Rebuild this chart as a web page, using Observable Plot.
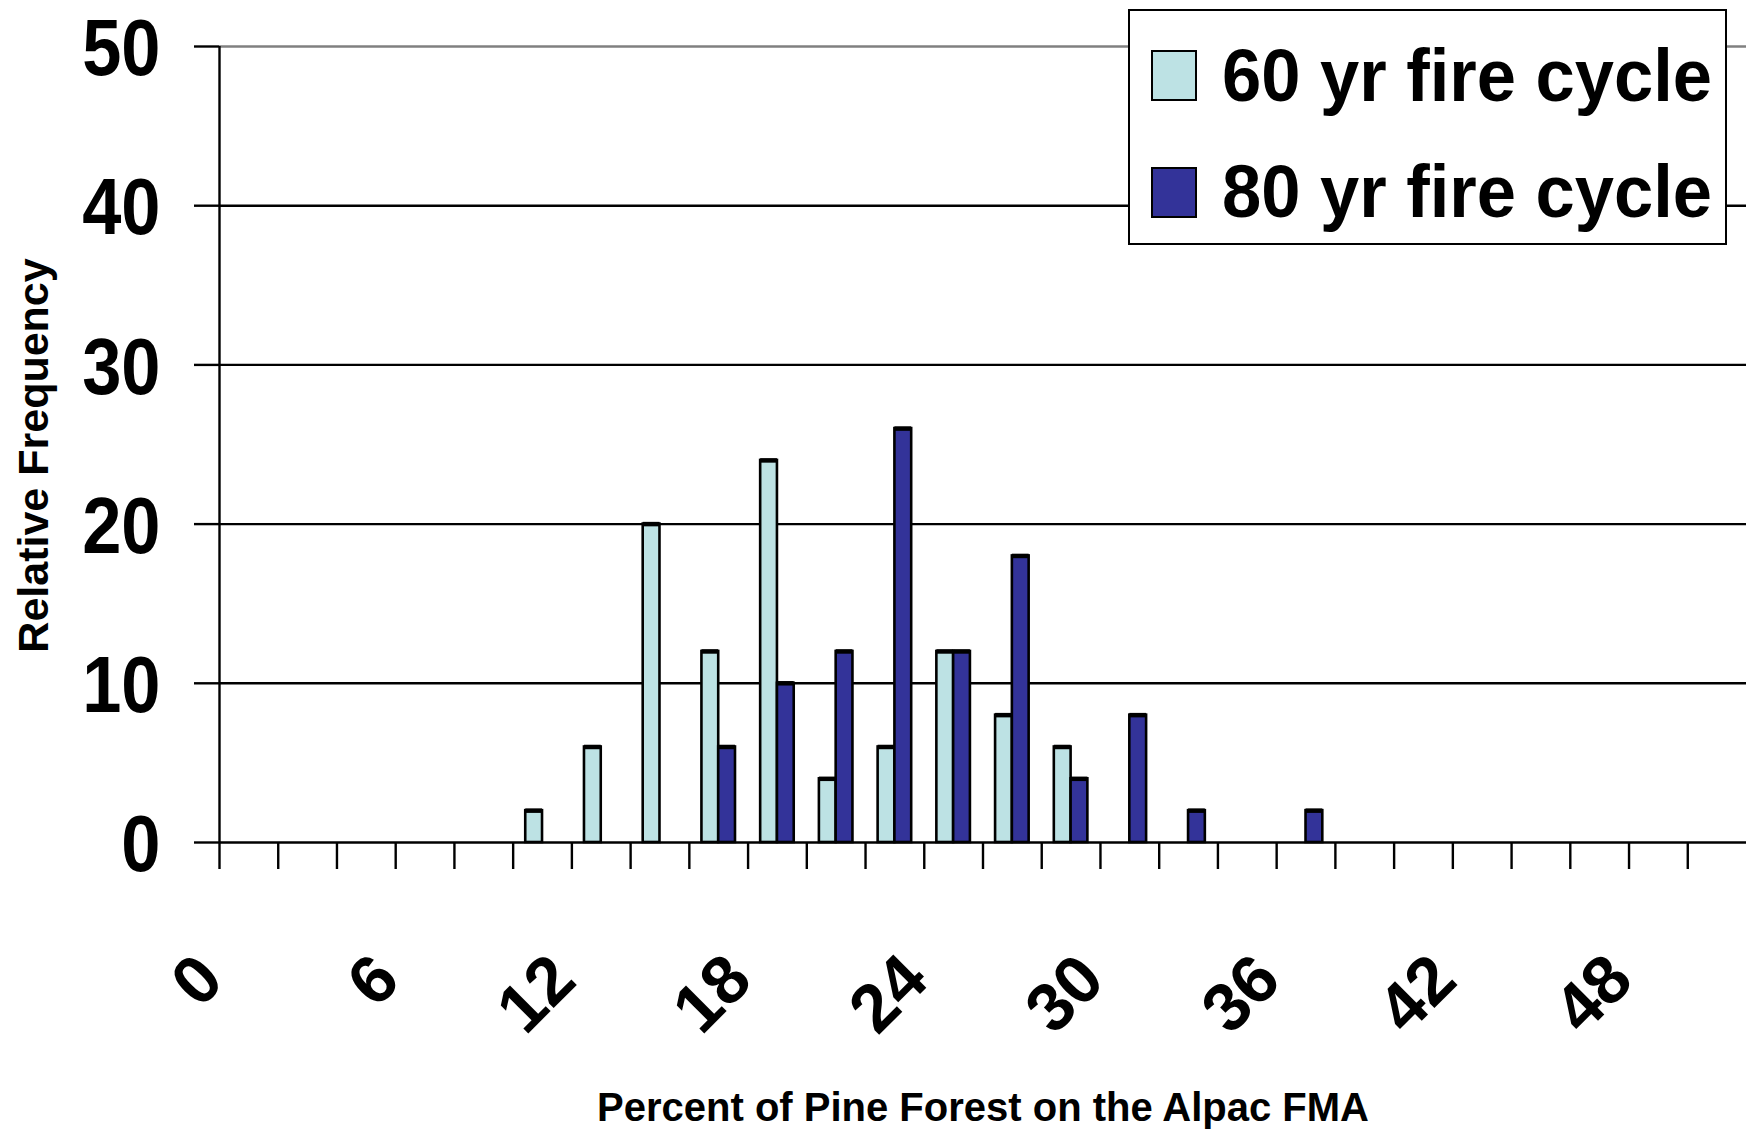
<!DOCTYPE html>
<html>
<head>
<meta charset="utf-8">
<script src="https://cdn.jsdelivr.net/npm/d3@7"></script>
<script src="https://cdn.jsdelivr.net/npm/@observablehq/plot@0.6"></script>
<style>
  html, body { margin: 0; padding: 0; background: #fff; }
  #wrap { position: relative; width: 1746px; height: 1130px; overflow: hidden; }
  #legend {
    position: absolute; left: 1128px; top: 9px; width: 595px; height: 232px;
    background: #fff; border: 2.5px solid #000;
    font-family: "Liberation Sans", Arial, sans-serif; font-weight: bold;
  }
  .sw { position: absolute; width: 42px; height: 47px; border: 2.5px solid #000; }
  .lab { position: absolute; left: 92px; font-size: 75px; line-height: 1; white-space: nowrap;
         transform: scaleX(0.94); transform-origin: 0 0; }
</style>
</head>
<body>
<div id="wrap"></div>
<script>
// Category values (percent of pine forest) — one bar group per category
const categories = [0, 2, 4, 6, 8, 10, 12, 14, 16, 18, 20, 22, 24, 26, 28, 30, 32, 34, 36, 38, 40, 42, 44, 46, 48, 50];
// Relative frequency, 60 yr fire cycle
const freq60 = [0, 0, 0, 0, 0, 2, 6, 20, 12, 24, 4, 6, 12, 8, 6, 0, 0, 0, 0, 0, 0, 0, 0, 0, 0, 0];
// Relative frequency, 80 yr fire cycle
const freq80 = [0, 0, 0, 0, 0, 0, 0, 0, 6, 10, 12, 26, 12, 18, 4, 8, 2, 0, 2, 0, 0, 0, 0, 0, 0, 0];
const seriesNames = ["60 yr fire cycle", "80 yr fire cycle"];
const seriesColors = ["#bde2e4", "#333399"];
const xTickLabels = [0, 6, 12, 18, 24, 30, 36, 42, 48];
const yTicks = [0, 10, 20, 30, 40, 50];
const xTitle = "Percent of Pine Forest on the Alpac FMA";
const yTitle = "Relative Frequency";

const step = 2;                 // category spacing in data units
const barW = step / 3.5;        // Excel gap width 150%
const boundaries = categories.map(c => c - step / 2);

const rows = [];
categories.forEach((c, i) => {
  if (freq60[i] > 0) rows.push({cat: c, v: freq60[i], s: 0});
  if (freq80[i] > 0) rows.push({cat: c, v: freq80[i], s: 1});
});
const x1 = d => d.s === 0 ? d.cat - barW : d.cat;
const x2 = d => d.s === 0 ? d.cat : d.cat + barW;

const font = "'Liberation Sans', Arial, sans-serif";

const chart = Plot.plot({
  width: 1746,
  height: 1130,
  marginLeft: 219,
  marginRight: 0,
  marginTop: 46,
  marginBottom: 288,
  style: {background: "#fff", overflow: "visible"},
  x: {type: "linear", domain: [categories[0] - step / 2, categories[categories.length - 1] + step / 2]},
  y: {domain: [0, 50]},
  marks: [
    Plot.ruleY([10, 20, 30, 40], {stroke: "#000", strokeWidth: 2.4}),
    Plot.ruleY([50], {stroke: "#808080", strokeWidth: 2.4}),
    Plot.rectY(rows, {
      x1, x2, y1: 0, y2: "v",
      fill: d => seriesColors[d.s],
      stroke: "#000", strokeWidth: 2.6
    }),
    Plot.ruleY(rows, {x1, x2, y: "v", stroke: "#000", strokeWidth: 4.5}),
    Plot.ruleY([0], {stroke: "#000", strokeWidth: 2.6}),
    Plot.ruleX([boundaries[0]], {y1: 0, y2: 50, stroke: "#000", strokeWidth: 2.4}),
    Plot.axisX({
      ticks: boundaries, tickSize: 27, tickFormat: () => "",
      stroke: "#000", strokeWidth: 2.4, label: null
    }),
    Plot.axisY({
      ticks: yTicks, tickSize: 25, tickFormat: () => "",
      stroke: "#000", strokeWidth: 2.4, label: null
    }),
    Plot.axisY({
      ticks: yTicks, tickSize: 0, tickPadding: 59, tickFormat: d => String(d),
      label: null, dy: 3,
      fontSize: 80, fontWeight: "bold", fontFamily: font, fill: "#000"
    }),
    Plot.text(xTickLabels, {
      x: d => d, text: d => String(d), frameAnchor: "bottom",
      rotate: -45, textAnchor: "end", lineAnchor: "middle",
      dx: -38, dy: 125,
      fontSize: 68, fontWeight: "bold", fontFamily: font, fill: "#000"
    }),
    Plot.text([xTitle], {
      frameAnchor: "bottom", lineAnchor: "bottom", dy: 278,
      fontSize: 40, fontWeight: "bold", fontFamily: font, fill: "#000"
    }),
    Plot.text([yTitle], {
      frameAnchor: "left", rotate: -90, lineAnchor: "bottom", textAnchor: "middle",
      dx: -172, dy: 11,
      fontSize: 43, fontWeight: "bold", fontFamily: font, fill: "#000"
    })
  ]
});

const wrap = document.getElementById("wrap");
wrap.appendChild(chart);

// The original y tick labels are set in a condensed bold face: compress them horizontally
d3.select(chart).selectAll('g[aria-label="y-axis tick label"] text').each(function () {
  const len = this.getComputedTextLength();
  if (len > 0) {
    this.setAttribute("textLength", (len * 0.88).toFixed(1));
    this.setAttribute("lengthAdjust", "spacingAndGlyphs");
  }
});

// Legend (overlapping the top-right of the plot, as in the original)
const legend = document.createElement("div");
legend.id = "legend";
const swTops = [39, 156];
const labTops = [27, 143];
seriesNames.forEach((name, i) => {
  const sw = document.createElement("div");
  sw.className = "sw";
  sw.style.left = "21px";
  sw.style.top = swTops[i] + "px";
  sw.style.background = seriesColors[i];
  legend.appendChild(sw);
  const lab = document.createElement("div");
  lab.className = "lab";
  lab.style.top = labTops[i] + "px";
  lab.textContent = name;
  legend.appendChild(lab);
});
wrap.appendChild(legend);
</script>
</body>
</html>
